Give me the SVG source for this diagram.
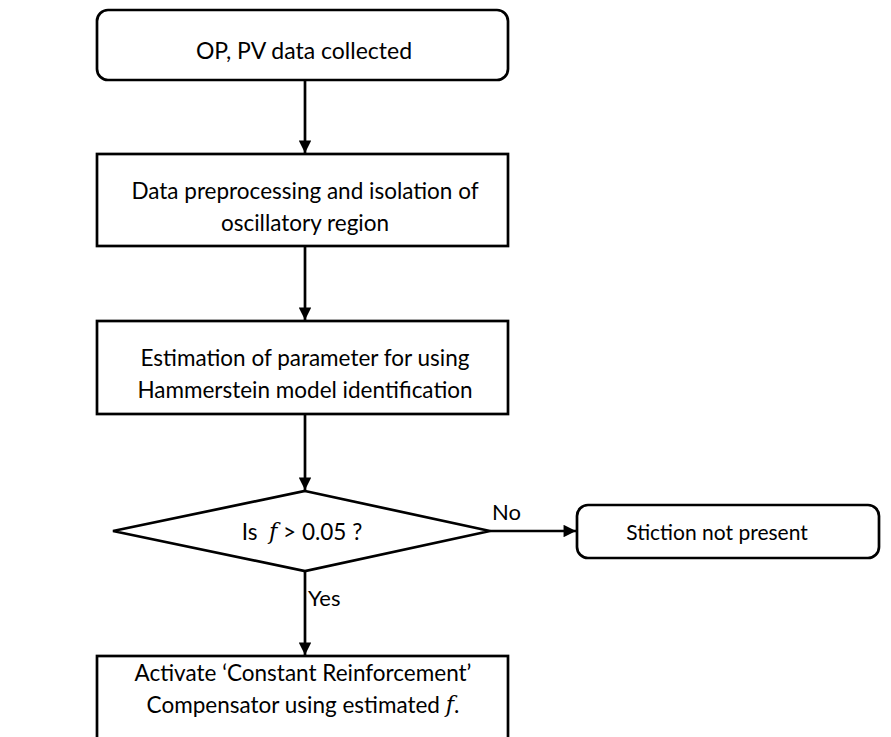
<svg xmlns="http://www.w3.org/2000/svg" width="891" height="737" viewBox="0 0 891 737">
<style>
.box{fill:#fff;stroke:#000;stroke-width:2.7}
.lbl{font-family:Lato,"Liberation Sans",sans-serif;font-size:22.5px;fill:#000;text-anchor:middle;dominant-baseline:central}
.lbl2{font-family:Lato,"Liberation Sans",sans-serif;font-size:22px;fill:#000;dominant-baseline:central}
.con{stroke:#000;stroke-width:2.7;fill:none}
</style>
<defs>
<marker id="ah" viewBox="0 0 10 10" refX="10" refY="5" markerWidth="5" markerHeight="4.6" orient="auto" markerUnits="strokeWidth">
<path d="M0,0 L10,5 L0,10 Z" fill="#000"/>
</marker>
</defs>
<rect width="891" height="737" fill="#fff"/>
<g id="connectors">
<line class="con" x1="305" y1="80" x2="305" y2="153" marker-end="url(#ah)"/>
<line class="con" x1="305" y1="246" x2="305" y2="320" marker-end="url(#ah)"/>
<line class="con" x1="305" y1="414" x2="305" y2="490" marker-end="url(#ah)"/>
<line class="con" x1="490" y1="531" x2="576" y2="531" marker-end="url(#ah)"/>
<line class="con" x1="305" y1="571" x2="305" y2="655" marker-end="url(#ah)"/>
<text class="lbl2" x="492" y="511">No</text>
<text class="lbl2" x="308" y="597">Yes</text>
</g>
<g id="start">
<rect class="box" x="97" y="10" width="411" height="70" rx="11"/>
<text class="lbl" x="304" y="50" style="font-size:23px">OP, PV data collected</text>
</g>
<g id="preprocess">
<rect class="box" x="97" y="154" width="411" height="92"/>
<text class="lbl" x="305" y="190">Data preprocessing and isolation of</text>
<text class="lbl" x="305" y="222">oscillatory region</text>
</g>
<g id="estimate">
<rect class="box" x="97" y="321" width="411" height="93"/>
<text class="lbl" x="305" y="357">Estimation of parameter for using</text>
<text class="lbl" x="305" y="389">Hammerstein model identification</text>
</g>
<g id="decision">
<polygon class="box" points="305,491 490,531 305,571 113,531"/>
<text class="lbl" x="302" y="531" xml:space="preserve">Is  <tspan font-family="'DejaVu Serif',serif" font-style="italic">f</tspan> &gt; 0.05 ?</text>
</g>
<g id="nostiction">
<rect class="box" x="577" y="505" width="302" height="53" rx="11"/>
<text class="lbl" x="717" y="531" style="font-size:21px">Stiction not present</text>
</g>
<g id="compensate">
<rect class="box" x="97" y="656" width="411" height="90"/>
<text class="lbl" x="303" y="672">Activate ‘Constant Reinforcement’</text>
<text class="lbl" x="303" y="704">Compensator using estimated <tspan font-family="'DejaVu Serif',serif" font-style="italic">f</tspan>.</text>
</g>
</svg>
